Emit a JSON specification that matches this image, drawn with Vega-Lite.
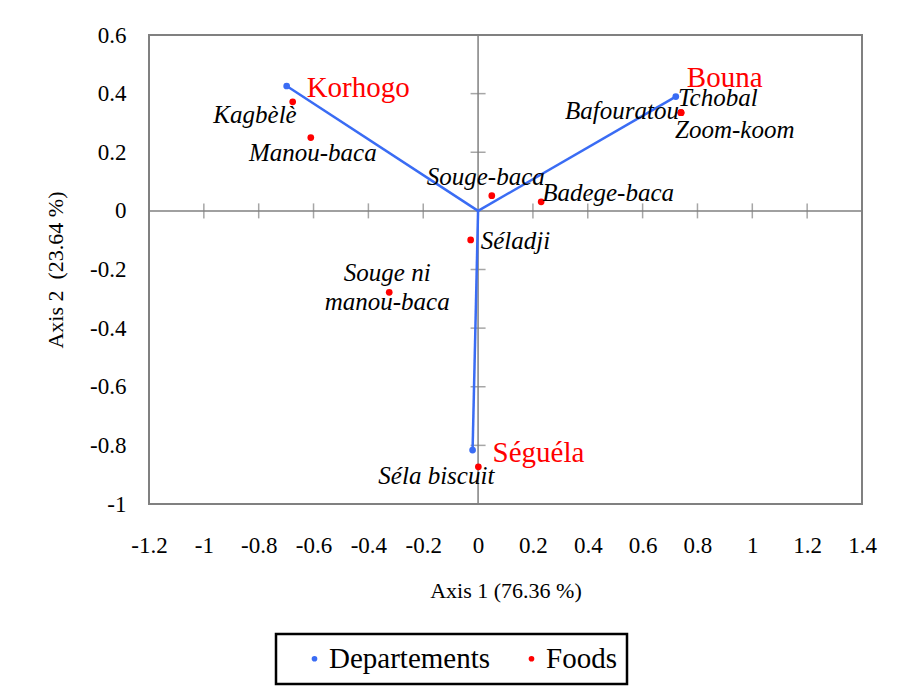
{
  "$schema": "https://vega.github.io/schema/vega-lite/v6.json",
  "width": 713,
  "height": 469,
  "autosize": {"type": "none"},
  "padding": {"left": 149, "top": 35, "right": 35, "bottom": 189},
  "background": "white",
  "datasets": {
    "pts": [
      {"name": "Korhogo", "label": "Korhogo", "group": "Departements", "x": -0.698, "y": 0.426},
      {"name": "Bouna", "label": "Bouna", "group": "Departements", "x": 0.721, "y": 0.390},
      {"name": "Séguéla", "label": "Séguéla", "group": "Departements", "x": -0.020, "y": -0.816},
      {"name": "Kagbèlè", "label": "Kagbèlè", "group": "Foods", "x": -0.676, "y": 0.372},
      {"name": "Manou-baca", "label": "Manou-baca", "group": "Foods", "x": -0.610, "y": 0.250},
      {"name": "Souge-baca", "label": "Souge-baca", "group": "Foods", "x": 0.050, "y": 0.052},
      {"name": "Badege-baca", "label": "Badege-baca", "group": "Foods", "x": 0.230, "y": 0.031},
      {"name": "Bafouratou", "label": "Bafouratou", "group": "Foods", "x": 0.740, "y": 0.335},
      {"name": "Tchobal", "label": "Tchobal", "group": "Foods", "x": 0.740, "y": 0.335},
      {"name": "Zoom-koom", "label": "Zoom-koom", "group": "Foods", "x": 0.740, "y": 0.335},
      {"name": "Séladji", "label": "Séladji", "group": "Foods", "x": -0.027, "y": -0.099},
      {"name": "Souge ni manou-baca", "label": "Souge ni\nmanou-baca", "group": "Foods", "x": -0.324, "y": -0.278},
      {"name": "Séla biscuit", "label": "Séla biscuit", "group": "Foods", "x": 0.001, "y": -0.873}
    ],
    "xticks": [
      {"x": -1.0, "y": 0}, {"x": -0.8, "y": 0}, {"x": -0.6, "y": 0}, {"x": -0.4, "y": 0}, {"x": -0.2, "y": 0},
      {"x": 0.2, "y": 0}, {"x": 0.4, "y": 0}, {"x": 0.6, "y": 0}, {"x": 0.8, "y": 0}, {"x": 1.0, "y": 0}, {"x": 1.2, "y": 0}
    ],
    "yticks": [
      {"x": 0, "y": 0.4}, {"x": 0, "y": 0.2}, {"x": 0, "y": -0.2}, {"x": 0, "y": -0.4}, {"x": 0, "y": -0.6}, {"x": 0, "y": -0.8}
    ]
  },
  "config": {
    "font": "Liberation Serif, Times New Roman, serif",
    "view": {"stroke": "#808080", "strokeWidth": 2},
    "axis": {
      "grid": false, "ticks": false, "domain": false, "labelFlush": false, "labelOverlap": false,
      "labelFont": "Liberation Serif, Times New Roman, serif", "labelFontSize": 23, "labelColor": "#000000",
      "titleFont": "Liberation Serif, Times New Roman, serif", "titleFontSize": 22, "titleFontWeight": "normal", "titleColor": "#000000"
    },
    "legend": {
      "orient": "none", "legendX": 127, "legendY": 599, "direction": "horizontal",
      "strokeColor": "#000000", "strokeWidth": 2.5, "fillColor": "white", "padding": 10,
      "labelFont": "Liberation Serif, Times New Roman, serif", "labelFontSize": 29, "labelColor": "#000000", "labelLimit": 400,
      "symbolType": "circle", "symbolSize": 32, "symbolStrokeWidth": 0,
      "labelOffset": 0, "columnPadding": 12, "symbolOffset": 14, "title": null
    }
  },
  "layer": [
    {
      "data": {"name": "xticks"},
      "mark": {"type": "tick", "orient": "vertical", "size": 15, "thickness": 1.5, "color": "#808080"},
      "encoding": {
        "x": {"field": "x", "type": "quantitative", "scale": {"domain": [-1.2, 1.4], "nice": false, "zero": false},
          "title": "Axis 1 (76.36 %)", "axis": {"values": [-1.2, -1, -0.8, -0.6, -0.4, -0.2, 0, 0.2, 0.4, 0.6, 0.8, 1, 1.2, 1.4],
          "labelExpr": "datum.value < -0.001 ? '-' + format(-datum.value, '.1~f') : format(abs(datum.value), '.1~f')",
          "labelPadding": 30, "titlePadding": 23}},
        "y": {"field": "y", "type": "quantitative", "scale": {"domain": [-1, 0.6], "nice": false, "zero": false},
          "title": "Axis 2 \u00a0(23.64 %)", "axis": {"values": [-1, -0.8, -0.6, -0.4, -0.2, 0, 0.2, 0.4, 0.6],
          "labelExpr": "datum.value < -0.001 ? '-' + format(-datum.value, '.1~f') : format(abs(datum.value), '.1~f')",
          "labelPadding": 23, "titlePadding": 22}}
      }
    },
    {
      "data": {"name": "yticks"},
      "mark": {"type": "tick", "orient": "horizontal", "size": 15, "thickness": 1.5, "color": "#808080"},
      "encoding": {
        "x": {"field": "x", "type": "quantitative"},
        "y": {"field": "y", "type": "quantitative"}
      }
    },
    {
      "data": {"values": [{}]},
      "mark": {"type": "rule", "color": "#808080", "strokeWidth": 1.5},
      "encoding": {"x": {"datum": 0, "type": "quantitative"}}
    },
    {
      "data": {"values": [{}]},
      "mark": {"type": "rule", "color": "#808080", "strokeWidth": 1.5},
      "encoding": {"y": {"datum": 0, "type": "quantitative"}}
    },
    {
      "data": {"name": "pts"},
      "transform": [{"filter": "datum.group == 'Departements'"}],
      "mark": {"type": "rule", "color": "#3a6cf4", "strokeWidth": 2.5},
      "encoding": {
        "x": {"field": "x", "type": "quantitative"},
        "y": {"field": "y", "type": "quantitative"},
        "x2": {"datum": 0},
        "y2": {"datum": 0}
      }
    },
    {
      "data": {"name": "pts"},
      "mark": {"type": "circle", "size": 45, "opacity": 1},
      "encoding": {
        "x": {"field": "x", "type": "quantitative"},
        "y": {"field": "y", "type": "quantitative"},
        "color": {"field": "group", "type": "nominal",
          "scale": {"domain": ["Departements", "Foods"], "range": ["#3a6cf4", "#ff0000"]}}
      }
    },
    {
      "data": {"name": "pts"},
      "transform": [{"filter": "datum.name == 'Korhogo'"}],
      "mark": {"type": "text", "fontSize": 29, "color": "#ff0000", "align": "left", "baseline": "alphabetic", "dx": 20, "dy": 11},
      "encoding": {"x": {"field": "x", "type": "quantitative"}, "y": {"field": "y", "type": "quantitative"}, "text": {"field": "label"}}
    },
    {
      "data": {"name": "pts"},
      "transform": [{"filter": "datum.name == 'Bouna'"}],
      "mark": {"type": "text", "fontSize": 29, "color": "#ff0000", "align": "left", "baseline": "alphabetic", "dx": 11, "dy": -10},
      "encoding": {"x": {"field": "x", "type": "quantitative"}, "y": {"field": "y", "type": "quantitative"}, "text": {"field": "label"}}
    },
    {
      "data": {"name": "pts"},
      "transform": [{"filter": "datum.name == 'Séguéla'"}],
      "mark": {"type": "text", "fontSize": 29, "color": "#ff0000", "align": "left", "baseline": "alphabetic", "dx": 20, "dy": 12},
      "encoding": {"x": {"field": "x", "type": "quantitative"}, "y": {"field": "y", "type": "quantitative"}, "text": {"field": "label"}}
    },
    {
      "data": {"name": "pts"},
      "transform": [{"filter": "datum.name == 'Kagbèlè'"}],
      "mark": {"type": "text", "fontStyle": "italic", "fontSize": 25, "color": "#000000", "align": "right", "baseline": "alphabetic", "dx": 4, "dy": 21},
      "encoding": {"x": {"field": "x", "type": "quantitative"}, "y": {"field": "y", "type": "quantitative"}, "text": {"field": "label"}}
    },
    {
      "data": {"name": "pts"},
      "transform": [{"filter": "datum.name == 'Manou-baca'"}],
      "mark": {"type": "text", "fontStyle": "italic", "fontSize": 25, "color": "#000000", "align": "center", "baseline": "alphabetic", "dx": 2, "dy": 23},
      "encoding": {"x": {"field": "x", "type": "quantitative"}, "y": {"field": "y", "type": "quantitative"}, "text": {"field": "label"}}
    },
    {
      "data": {"name": "pts"},
      "transform": [{"filter": "datum.name == 'Souge-baca'"}],
      "mark": {"type": "text", "fontStyle": "italic", "fontSize": 25, "color": "#000000", "align": "center", "baseline": "alphabetic", "dx": -6, "dy": -11},
      "encoding": {"x": {"field": "x", "type": "quantitative"}, "y": {"field": "y", "type": "quantitative"}, "text": {"field": "label"}}
    },
    {
      "data": {"name": "pts"},
      "transform": [{"filter": "datum.name == 'Badege-baca'"}],
      "mark": {"type": "text", "fontStyle": "italic", "fontSize": 25, "color": "#000000", "align": "left", "baseline": "alphabetic", "dx": 1, "dy": -1},
      "encoding": {"x": {"field": "x", "type": "quantitative"}, "y": {"field": "y", "type": "quantitative"}, "text": {"field": "label"}}
    },
    {
      "data": {"name": "pts"},
      "transform": [{"filter": "datum.name == 'Bafouratou'"}],
      "mark": {"type": "text", "fontStyle": "italic", "fontSize": 25, "color": "#000000", "align": "right", "baseline": "alphabetic", "dx": -2, "dy": 6},
      "encoding": {"x": {"field": "x", "type": "quantitative"}, "y": {"field": "y", "type": "quantitative"}, "text": {"field": "label"}}
    },
    {
      "data": {"name": "pts"},
      "transform": [{"filter": "datum.name == 'Tchobal'"}],
      "mark": {"type": "text", "fontStyle": "italic", "fontSize": 25, "color": "#000000", "align": "left", "baseline": "alphabetic", "dx": -3, "dy": -7},
      "encoding": {"x": {"field": "x", "type": "quantitative"}, "y": {"field": "y", "type": "quantitative"}, "text": {"field": "label"}}
    },
    {
      "data": {"name": "pts"},
      "transform": [{"filter": "datum.name == 'Zoom-koom'"}],
      "mark": {"type": "text", "fontStyle": "italic", "fontSize": 25, "color": "#000000", "align": "left", "baseline": "alphabetic", "dx": -6, "dy": 25},
      "encoding": {"x": {"field": "x", "type": "quantitative"}, "y": {"field": "y", "type": "quantitative"}, "text": {"field": "label"}}
    },
    {
      "data": {"name": "pts"},
      "transform": [{"filter": "datum.name == 'Séladji'"}],
      "mark": {"type": "text", "fontStyle": "italic", "fontSize": 25, "color": "#000000", "align": "left", "baseline": "alphabetic", "dx": 10, "dy": 9},
      "encoding": {"x": {"field": "x", "type": "quantitative"}, "y": {"field": "y", "type": "quantitative"}, "text": {"field": "label"}}
    },
    {
      "data": {"name": "pts"},
      "transform": [{"filter": "datum.name == 'Souge ni manou-baca'"}],
      "mark": {"type": "text", "fontStyle": "italic", "fontSize": 25, "color": "#000000", "align": "center", "baseline": "alphabetic", "lineBreak": "\n", "lineHeight": 29, "dx": -2, "dy": -11},
      "encoding": {"x": {"field": "x", "type": "quantitative"}, "y": {"field": "y", "type": "quantitative"}, "text": {"field": "label"}}
    },
    {
      "data": {"name": "pts"},
      "transform": [{"filter": "datum.name == 'Séla biscuit'"}],
      "mark": {"type": "text", "fontStyle": "italic", "fontSize": 25, "color": "#000000", "align": "center", "baseline": "alphabetic", "dx": -42, "dy": 17},
      "encoding": {"x": {"field": "x", "type": "quantitative"}, "y": {"field": "y", "type": "quantitative"}, "text": {"field": "label"}}
    }
  ]
}
